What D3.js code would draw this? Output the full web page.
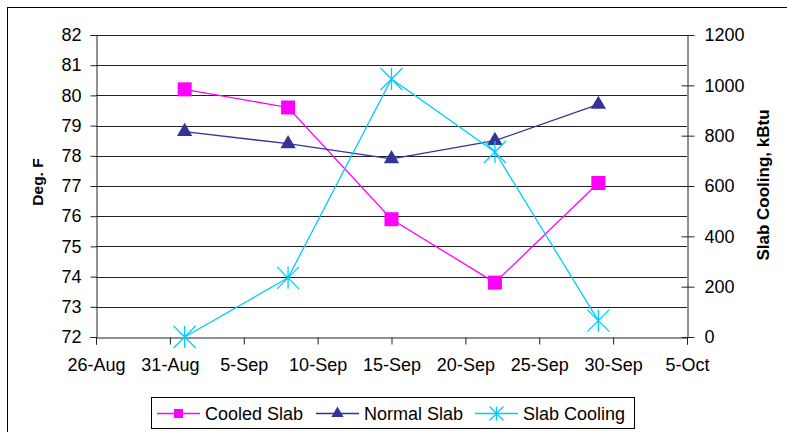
<!DOCTYPE html>
<html><head><meta charset="utf-8">
<script src="https://cdn.jsdelivr.net/npm/d3@7"></script>
<style>body{margin:0;background:#fff}svg{display:block;font-family:"Liberation Sans",Arial,sans-serif}</style>
</head><body><svg id="c" width="787" height="432"></svg>
<script>
const dates = ["2004-09-01","2004-09-08","2004-09-15","2004-09-22","2004-09-29"];
const cooledSlab = [80.2, 79.6, 75.9, 73.8, 77.1];
const normalSlab = [78.8, 78.4, 77.9, 78.5, 79.7];
const slabCooling = [0, 235, 1025, 735, 65];
const leftTicks = [72,73,74,75,76,77,78,79,80,81,82];
const rightTicks = [0,200,400,600,800,1000,1200];
const xTickLabels = ["26-Aug","31-Aug","5-Sep","10-Sep","15-Sep","20-Sep","25-Sep","30-Sep","5-Oct"];
const seriesNames = ["Cooled Slab","Normal Slab","Slab Cooling"];

const parse = d3.utcParse("%Y-%m-%d");
const svg = d3.select("#c");
const L=96, R=687, T=35, B=337;
const FONT = "Liberation Sans, Arial, sans-serif";
const x = d3.scaleUtc().domain([parse("2004-08-26"), parse("2004-10-05")]).range([L,R]);
const yL = d3.scaleLinear().domain([72,82]).range([B,T]);
const yR = d3.scaleLinear().domain([0,1200]).range([B,T]);
const xTicks = d3.range(9).map(i => d3.utcDay.offset(parse("2004-08-26"), i*5));

svg.append("rect").attr("x",7.5).attr("y",7.5).attr("width",800).attr("height",440).attr("fill","#fff").attr("stroke","#000").attr("stroke-width",1);

// gridlines
svg.append("g").selectAll("line").data(leftTicks.slice(1)).join("line")
  .attr("x1",L).attr("x2",R).attr("y1",d=>Math.round(yL(d))+0.5).attr("y2",d=>Math.round(yL(d))+0.5)
  .attr("stroke","#222").attr("stroke-width",1);

// left axis
const gl = svg.append("g").attr("transform",`translate(${L+0.5},0)`)
  .call(d3.axisLeft(yL).tickValues(leftTicks).tickSize(6).tickPadding(9).tickFormat(d3.format("d")));
gl.select(".domain").attr("stroke","#222");
gl.selectAll(".tick line").attr("stroke","#222");
gl.selectAll("text").attr("font-size",18).attr("fill","#000").attr("font-family",FONT);

// right axis
const gr = svg.append("g").attr("transform",`translate(${R+0.5},0)`)
  .call(d3.axisRight(yR).tickValues(rightTicks).tickSizeInner(7).tickSizeOuter(0).tickPadding(10).tickFormat(d3.format("d")));
gr.select(".domain").attr("stroke","#222");
gr.selectAll(".tick line").attr("stroke","#222").attr("x1",-6);
gr.selectAll("text").attr("font-size",18).attr("fill","#000").attr("font-family",FONT);

// bottom axis
const gb = svg.append("g").attr("transform",`translate(0,${B+0.5})`)
  .call(d3.axisBottom(x).tickValues(xTicks).tickSize(7).tickPadding(14).tickFormat((d,i)=>xTickLabels[i]));
gb.select(".domain").attr("stroke","#222");
gb.selectAll(".tick line").attr("stroke","#222");
gb.selectAll("text").attr("font-size",18).attr("fill","#000").attr("font-family",FONT);

// axis titles
svg.append("text").attr("transform",`translate(43,182) rotate(-90)`).attr("text-anchor","middle")
  .attr("font-size",15.5).attr("font-weight","bold").attr("font-family",FONT).text("Deg. F");
svg.append("text").attr("transform",`translate(769,185) rotate(-90)`).attr("text-anchor","middle")
  .attr("font-size",17).attr("font-weight","bold").attr("font-family",FONT).text("Slab Cooling, kBtu");

const pts = (vals, y) => dates.map((d,i)=>[x(parse(d)), y(vals[i])]);
const line = d3.line();
const cMag="#FF00FF", cNavy="#333399", cCyan="#00CCFF";

function square(g, p, s){ g.append("rect").attr("x",p[0]-s/2).attr("y",p[1]-s/2).attr("width",s).attr("height",s).attr("fill",cMag); }
function tri(g, p, s){ g.append("path").attr("d",d3.symbol(d3.symbolTriangle, s*s*0.45)()).attr("transform",`translate(${p[0]},${p[1]})`).attr("fill",cNavy); }
function star(g, p, s){
  const h=s/2;
  g.append("path").attr("d",`M${p[0]-h},${p[1]-h}L${p[0]+h},${p[1]+h}M${p[0]-h},${p[1]+h}L${p[0]+h},${p[1]-h}M${p[0]},${p[1]-h}L${p[0]},${p[1]+h}`)
   .attr("stroke",cCyan).attr("stroke-width",1.3).attr("fill","none");
}

const gc = svg.append("g");
const pc = pts(cooledSlab,yL), pn = pts(normalSlab,yL), ps = pts(slabCooling,yR);
gc.append("path").attr("d",line(pc)).attr("stroke",cMag).attr("stroke-width",1.3).attr("fill","none");
gc.append("path").attr("d",line(pn)).attr("stroke",cNavy).attr("stroke-width",1.3).attr("fill","none");
gc.append("path").attr("d",line(ps)).attr("stroke",cCyan).attr("stroke-width",1.3).attr("fill","none");
pc.forEach(p=>square(gc,p,14));
pn.forEach(p=>tri(gc,p,15));
ps.forEach(p=>star(gc,p,22));

// legend
const lg = svg.append("g");
lg.append("rect").attr("x",151.5).attr("y",397.5).attr("width",483).attr("height",31).attr("fill","#fff").attr("stroke","#000");
const ly = 413.5;
const items = [
  {x:157, name:seriesNames[0], col:cMag, m:square, s:9},
  {x:316, name:seriesNames[1], col:cNavy, m:tri, s:12},
  {x:475, name:seriesNames[2], col:cCyan, m:star, s:14}
];
items.forEach(it=>{
  lg.append("line").attr("x1",it.x).attr("x2",it.x+43).attr("y1",ly).attr("y2",ly).attr("stroke",it.col).attr("stroke-width",1.3);
  it.m(lg,[it.x+21.5,ly],it.s);
  lg.append("text").attr("x",it.x+48).attr("y",ly+6.5).attr("font-size",18).attr("font-family",FONT).text(it.name);
});
</script></body></html>
